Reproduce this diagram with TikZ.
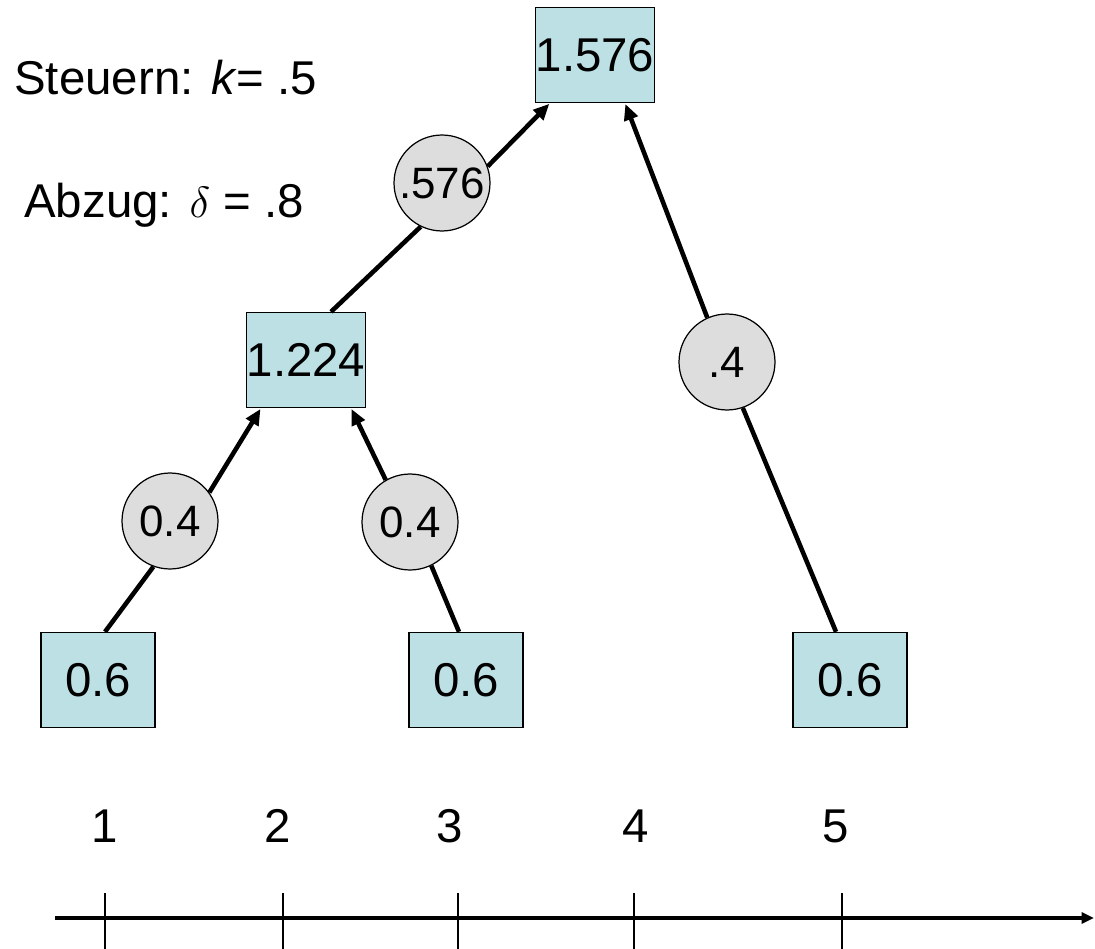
\documentclass[tikz,border=0pt]{standalone}
\usepackage{fontspec}
\setmainfont{Liberation Sans}
\usepackage{tikz}
\usetikzlibrary{arrows.meta}
\definecolor{BoxColour}{RGB}{188,224,228}
\definecolor{circgrey}{RGB}{221,221,221}

\begin{document}
\begin{tikzpicture}[
  x=0.02cm, y=-0.02cm,
  font=\fontsize{27}{31}\selectfont,
  valbox/.style={draw, line width=0.8pt, fill=BoxColour, minimum width=2.28cm, minimum height=1.9cm, inner sep=0pt},
  flow/.style={circle, draw, line width=0.7pt, fill=circgrey, minimum size=1.92cm, inner sep=0pt, font=\fontsize{25}{29}\selectfont},
  link/.style={line width=2.6pt},
  conn/.style={line width=2.6pt, -{Triangle[length=3.2mm,width=2.8mm]}, shorten >=0.5pt},
]
\useasboundingbox (0,0) rectangle (1095,949);

% Parameters
\node[anchor=west, inner sep=0pt] (tax) at (14,78){Steuern: \textit{k}= .5};
\node[anchor=west, inner sep=0pt] (disc) at (24,205){Abzug: $\delta$ = .8};

% Boxes
\node[valbox] (top) at (595,55){1.576};
\node[valbox] (mid) at (306,360){1.224};
\node[valbox] (b1) at (98,680){0.6};
\node[valbox] (b2) at (466,680){0.6};
\node[valbox] (b3) at (850,680){0.6};

% Flows
\node[flow] (f1) at (170,521){0.4};
\node[flow] (f2) at (410,522){0.4};
\node[flow] (f3) at (442,183){.576};
\node[flow] (f4) at (727,362){.4};

% Connectors
\draw[link] ([xshift=0.14cm]b1.north) -- (f1.250);
\draw[conn] (f1.36) -- ([xshift=0.3cm]mid.south west);
\draw[link] ([xshift=-0.14cm]b2.north) -- (f2.296);
\draw[conn] (f2.120) -- ([xshift=-0.3cm]mid.south east);
\draw[link] ([xshift=0.5cm]mid.north) -- (f3.244);
\draw[conn] (f3.20) -- ([xshift=0.3cm]top.south west);
\draw[link] ([xshift=-0.28cm]b3.north) -- (f4.289);
\draw[conn] (f4.114) -- ([xshift=-0.6cm]top.south east);

% Time axis
\coordinate (ax0) at (55,918);
\coordinate (ax1) at (1094,918);
\draw[line width=1.8pt, -{Triangle[length=2.5mm,width=2.2mm]}] (ax0) -- (ax1);
\foreach \i/\tx/\lx in {1/105/105, 2/283/278, 3/458/450, 4/634/636, 5/842/836}{
  \node (t\i) at (\lx,826){\i};
  \draw[line width=0.8pt] (\tx,893) -- (\tx,949);
}

\end{tikzpicture}
\end{document}
